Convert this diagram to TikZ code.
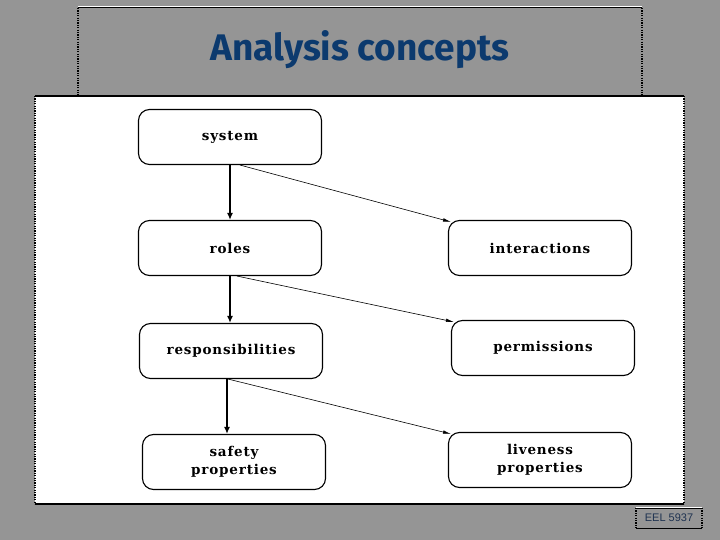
\documentclass[tikz,border=0pt]{standalone}
\usepackage{fontspec}
\setmainfont{Liberation Serif}
\newfontfamily\titlefont{Fira Sans}
\newfontfamily\footfont{Liberation Sans}
\newfontfamily\boxfont[LetterSpace=6]{DejaVu Serif}
\usetikzlibrary{arrows.meta}
\definecolor{bggray}{RGB}{149,149,149}
\definecolor{titleblue}{RGB}{12,58,110}
\definecolor{footblue}{RGB}{30,50,80}
\tikzset{
  concept/.style={draw=black, line width=1.1pt, rounded corners=11pt, fill=white,
    minimum width=183pt, minimum height=55pt, align=center,
    font=\boxfont\bfseries\fontsize{13.5}{18}\selectfont, inner sep=2pt},
  mainarrow/.style={line width=1.6pt, -{Latex[length=7pt,width=6pt]}},
  sidearrow/.style={line width=0.6pt, -{Latex[length=8pt,width=3.5pt]}},
  dotframe/.style={line width=1.2pt, dash pattern=on 1.2pt off 1.2pt}
}
\begin{document}
\begin{tikzpicture}[x=1pt,y=-1pt]
\useasboundingbox (0,0) rectangle (720,540);
\fill[bggray] (0,0) rectangle (720,540);
% title frame
\draw[white, line width=1pt] (78,7) -- (642,7);
\draw[black, line width=1pt] (78,8) -- (642,8);
\draw[dotframe] (78,8) -- (78,96);
\draw[dotframe] (642,8) -- (642,96);
\node[font=\titlefont\bfseries\fontsize{37}{40}\selectfont, text=titleblue] (title) at (360,50) {Analysis concepts};
% image frame
\fill[white] (35,96) rectangle (684,504);
\draw[black, line width=1.2pt] (35,96) -- (684,96);
\draw[black, line width=1.2pt] (35,504) -- (684,504);
\draw[dotframe] (35,96) -- (35,504);
\draw[dotframe] (684,96) -- (684,504);
% nodes
\node[concept] (system) at (230,137) {system};
\node[concept] (roles) at (230,248) {roles};
\node[concept] (resp) at (231,351) {responsibilities};
\node[concept] (safety) at (234,462) {safety\\properties};
\node[concept] (inter) at (540,248) {interactions};
\node[concept] (perm) at (543,348) {permissions};
\node[concept] (live) at (540,460) {liveness\\properties};
% arrows
\draw[mainarrow] (system.south) -- (roles.north);
\draw[mainarrow] (roles.south) -- (roles.south |- resp.north);
\draw[mainarrow] ([xshift=-4pt]resp.south) -- ([xshift=-4pt]resp.south |- safety.north);
\draw[sidearrow] ([xshift=10pt]system.south) -- ([xshift=3pt,yshift=-2pt]inter.north west);
\draw[sidearrow] ([xshift=7pt]roles.south) -- ([xshift=3pt,yshift=-2pt]perm.north west);
\draw[sidearrow] ([xshift=-3pt]resp.south) -- ([xshift=3pt,yshift=-2pt]live.north west);
% footer
\draw[white, line width=1pt] (636,507) -- (702,507);
\draw[black, line width=1pt] (636,508) -- (702,508);
\draw[black, line width=1pt] (636,528) -- (702,528);
\draw[dotframe] (636,508) -- (636,528);
\draw[dotframe] (702,508) -- (702,528);
\node[font=\footfont\fontsize{11}{12}\selectfont, text=footblue] (foot) at (669,518) {EEL 5937};
\end{tikzpicture}
\end{document}
